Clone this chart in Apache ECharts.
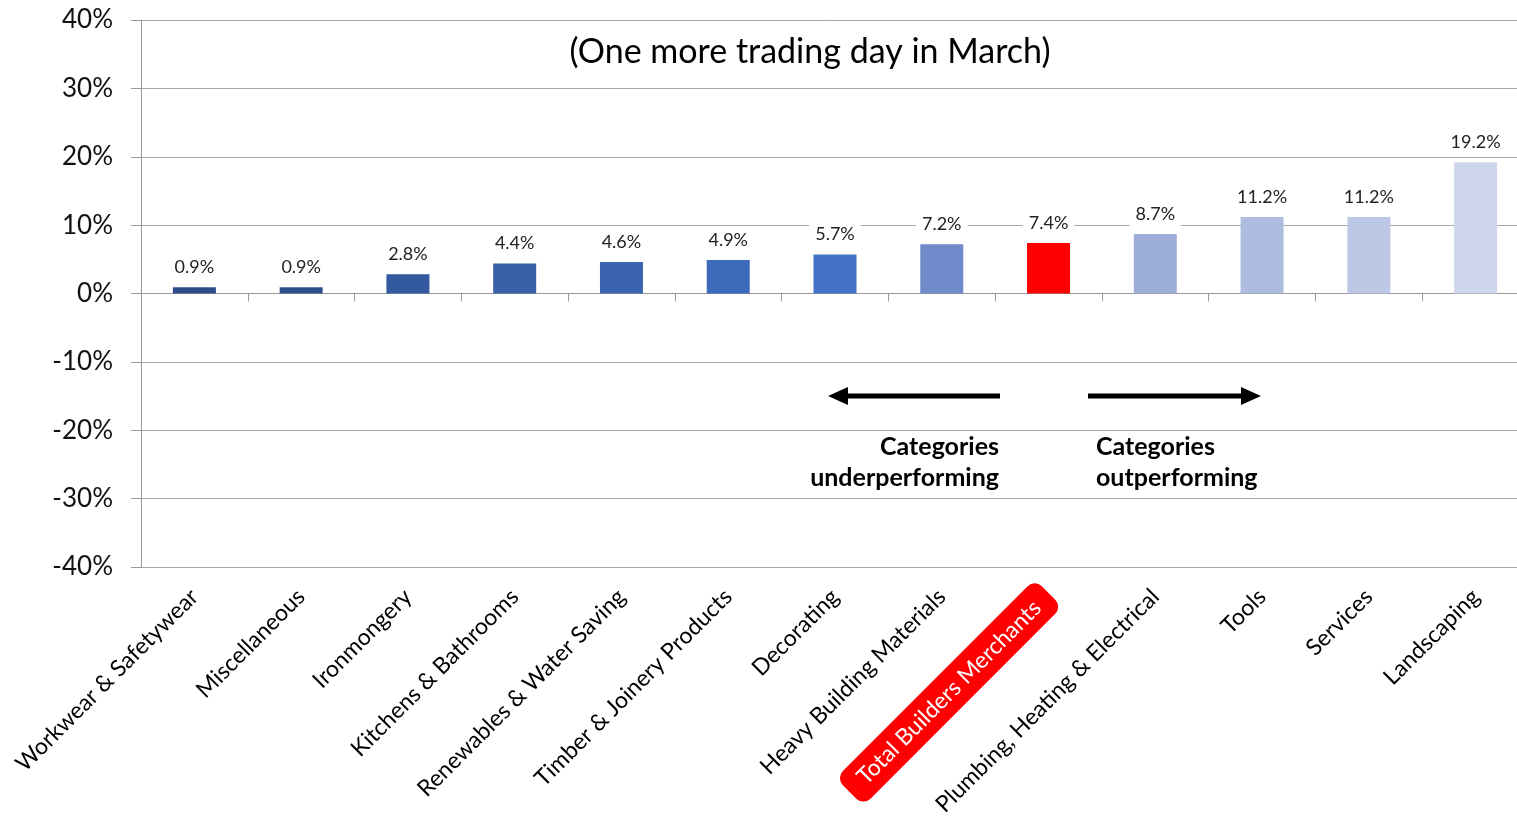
<!DOCTYPE html>
<html>
<head>
<meta charset="utf-8">
<script src="https://cdn.jsdelivr.net/npm/echarts@6/dist/echarts.min.js"></script>
<style>
  html, body { margin: 0; padding: 0; background: #fff; overflow: hidden; }
  #chart { width: 1517px; height: 819px; }
</style>
</head>
<body>
<div id="chart"></div>
<script>
const categories = [
  'Workwear & Safetywear',
  'Miscellaneous',
  'Ironmongery',
  'Kitchens & Bathrooms',
  'Renewables & Water Saving',
  'Timber & Joinery Products',
  'Decorating',
  'Heavy Building Materials',
  'Total Builders Merchants',
  'Plumbing, Heating & Electrical',
  'Tools',
  'Services',
  'Landscaping',
]
const values = [0.9, 0.9, 2.8, 4.4, 4.6, 4.9, 5.7, 7.2, 7.4, 8.7, 11.2, 11.2, 19.2]
const barColors = [
  '#2E4C87', '#2F4F8C', '#335A9F', '#3760A8', '#3A64B0', '#3D6ABB', '#4472C4',
  '#6F8BC9', '#FF0000', '#9DAED8', '#AEBCDF', '#BCC8E5', '#CED6EB',
]
const totalIndex = 8
const font = 'Lato, "Open Sans", sans-serif'

const chart = echarts.init(document.getElementById('chart'))

const labelData = categories.map((name, i) =>
  i === totalIndex
    ? {
        value: name,
        textStyle: {
          color: '#fff',
          backgroundColor: '#FF0000',
          borderRadius: 10,
          padding: [8, 16],
        },
      }
    : name
)

const option = {
  animation: false,
  textStyle: { fontFamily: font },
  title: {
    text: '(One more trading day in March)',
    left: 805,
    top: 30,
    textAlign: 'center',
    textStyle: { fontFamily: font, fontSize: 34, fontWeight: 'normal', color: '#000' },
  },
  // plot runs a little past the right edge of the picture
  grid: {
    left: 141,
    width: 1388,
    top: 20,
    bottom: 252,
    containLabel: false,
    outerBoundsMode: 'none',
  },
  xAxis: [
    {
      type: 'category',
      data: categories,
      axisLine: { onZero: true, lineStyle: { color: '#999', width: 1 } },
      axisTick: { show: true, interval: 0, length: 8, lineStyle: { color: '#999' } },
      axisLabel: { show: false },
    },
    {
      type: 'category',
      data: labelData,
      position: 'bottom',
      axisLine: { onZero: false, show: false },
      axisTick: { show: false },
      axisLabel: {
        rotate: 45,
        margin: 26,
        interval: 0,
        fontSize: 23,
        fontFamily: font,
        color: '#000',
      },
    },
  ],
  yAxis: {
    type: 'value',
    min: -40,
    max: 40,
    interval: 10,
    axisLine: { show: true, lineStyle: { color: '#999' } },
    axisTick: { show: true, length: 10, lineStyle: { color: '#999' } },
    splitLine: { lineStyle: { color: '#a6a6a6', width: 1 } },
    axisLabel: {
      formatter: '{value}%',
      fontSize: 26,
      fontFamily: font,
      color: '#111',
      margin: 28,
    },
  },
  series: [
    {
      type: 'bar',
      xAxisIndex: 0,
      barWidth: 43,
      data: values.map((v, i) => ({ value: v, itemStyle: { color: barColors[i] } })),
      label: {
        show: true,
        position: 'top',
        distance: 8,
        formatter: (p) => p.value.toFixed(1) + '%',
        fontSize: 18,
        fontFamily: font,
        color: '#222',
        backgroundColor: '#fff',
        padding: [3, 6],
      },
    },
  ],
  graphic: [
    // left arrow
    {
      type: 'line',
      shape: { x1: 1000, y1: 396, x2: 845, y2: 396 },
      style: { stroke: '#000', lineWidth: 5 },
    },
    {
      type: 'polygon',
      shape: { points: [[828, 396], [848, 387], [848, 405]] },
      style: { fill: '#000' },
    },
    // right arrow
    {
      type: 'line',
      shape: { x1: 1088, y1: 396, x2: 1243, y2: 396 },
      style: { stroke: '#000', lineWidth: 5 },
    },
    {
      type: 'polygon',
      shape: { points: [[1261, 396], [1241, 387], [1241, 405]] },
      style: { fill: '#000' },
    },
    {
      type: 'text',
      x: 999,
      y: 431,
      style: {
        text: 'Categories\nunderperforming',
        align: 'right',
        font: 'bold 25px ' + font,
        lineHeight: 31,
        fill: '#000',
      },
    },
    {
      type: 'text',
      x: 1096,
      y: 431,
      style: {
        text: 'Categories\noutperforming',
        align: 'left',
        font: 'bold 25px ' + font,
        lineHeight: 31,
        fill: '#000',
      },
    },
  ],
}

chart.setOption(option)
</script>
</body>
</html>
